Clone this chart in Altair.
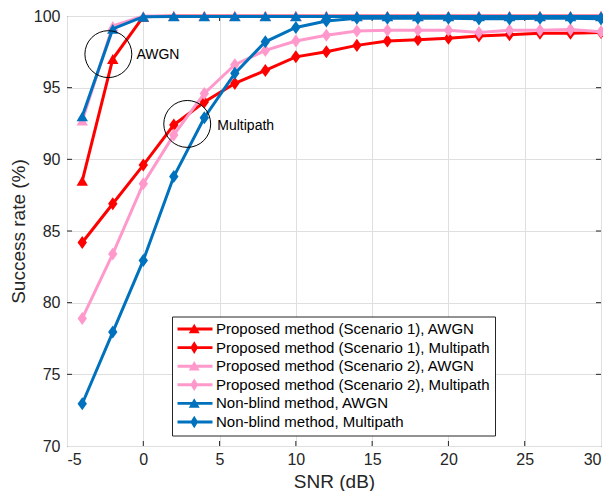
import altair as alt
import pandas as pd

# ---------------- data ----------------
snr = [-4, -2, 0, 2, 4, 6, 8, 10, 12, 14, 16, 18, 20, 22, 24, 26, 28, 30]

p1_awgn = [88.5, 97.0, 99.95, 100, 100, 100, 100, 100, 100, 100, 100, 100, 100, 100, 100, 100, 100, 100]
p1_mp = [84.2, 86.9, 89.6, 92.4, 94.0, 95.3, 96.2, 97.15, 97.5, 97.95, 98.25, 98.35, 98.45, 98.6, 98.7, 98.8, 98.8, 98.85]
p2_awgn = [92.7, 99.3, 100, 100, 100, 100, 100, 100, 100, 100, 100, 100, 100, 100, 100, 100, 100, 100]
p2_mp = [78.9, 83.4, 88.3, 91.7, 94.6, 96.6, 97.6, 98.25, 98.65, 98.95, 99.0, 99.0, 99.0, 98.85, 99.0, 99.0, 99.05, 98.9]
nb_awgn = [93.0, 99.1, 99.95, 99.97, 99.97, 99.97, 99.97, 99.97, 99.97, 99.97, 99.97, 99.97, 99.97, 99.97, 99.97, 99.97, 99.97, 99.97]
nb_mp = [72.95, 77.95, 82.95, 88.8, 92.9, 96.0, 98.2, 99.2, 99.65, 99.85, 99.85, 99.85, 99.85, 99.8, 99.8, 99.85, 99.85, 99.8]

series_names = [
    "Proposed method (Scenario 1), AWGN",
    "Proposed method (Scenario 1), Multipath",
    "Proposed method (Scenario 2), AWGN",
    "Proposed method (Scenario 2), Multipath",
    "Non-blind method, AWGN",
    "Non-blind method, Multipath",
]
series_values = [p1_awgn, p1_mp, p2_awgn, p2_mp, nb_awgn, nb_mp]
series_colors = ["#FF0000", "#FF0000", "#FF99CC", "#FF99CC", "#0072BD", "#0072BD"]
series_markers = ["tri", "dia", "tri", "dia", "tri", "dia"]

x_ticks = [-5, 0, 5, 10, 15, 20, 25, 30]
y_ticks = [70, 75, 80, 85, 90, 95, 100]

ann_x = [-2.29, 2.88]
ann_y = [97.34, 92.47]
ann_text = ["AWGN", "Multipath"]
ann_text_x = [-0.45, 4.85]
ann_text_y = [97.3, 92.32]

# ---------------- style ----------------
FONT = "Liberation Sans"
INK = "#262626"
X_DOM = [-5, 30]
Y_DOM = [70, 100]
TICK_LEN_X = 0.33   # inward tick length in data units
TICK_LEN_Y = 0.349

marker_shape = {"tri": "triangle-up", "dia": "M0,-1L0.72,0L0,1L-0.72,0Z"}
marker_size = {"tri": 130, "dia": 170}
legend_path = {
    "tri": "M-1,-0.21H4V0.21H-1Z M1.39,-0.75L2.17,0.62L0.61,0.62Z",
    "dia": "M-1,-0.21H4V0.21H-1Z M1.39,-0.9L1.95,0L1.39,0.9L0.83,0Z",
}

rows = []
for name, vals in zip(series_names, series_values):
    for s, v in zip(snr, vals):
        rows.append({"snr": s, "value": v, "series": name})
df = pd.DataFrame(rows)

x_enc = alt.X(
    "snr:Q",
    scale=alt.Scale(domain=X_DOM, nice=False, zero=False),
    axis=alt.Axis(values=x_ticks, title="SNR (dB)", labelPadding=5, titlePadding=5,
                  labelExpr="'' + datum.value"),
)
y_enc = alt.Y(
    "value:Q",
    scale=alt.Scale(domain=Y_DOM, nice=False, zero=False),
    axis=alt.Axis(values=y_ticks, title="Success rate (%)", labelPadding=7, titlePadding=5),
)

layers = []

# inward tick marks on all four sides
tick_rows = []
for t in x_ticks[1:-1]:
    tick_rows.append({"snr": t, "value": Y_DOM[0], "snr2": t, "value2": Y_DOM[0] + TICK_LEN_Y})
    tick_rows.append({"snr": t, "value": Y_DOM[1], "snr2": t, "value2": Y_DOM[1] - TICK_LEN_Y})
for v in y_ticks[1:-1]:
    tick_rows.append({"snr": X_DOM[0], "value": v, "snr2": X_DOM[0] + TICK_LEN_X, "value2": v})
    tick_rows.append({"snr": X_DOM[1], "value": v, "snr2": X_DOM[1] - TICK_LEN_X, "value2": v})
ticks = alt.Chart(pd.DataFrame(tick_rows)).mark_rule(color=INK, strokeWidth=1).encode(
    x=x_enc, x2="snr2:Q", y=y_enc, y2="value2:Q"
)
layers.append(ticks)

for name, col, mk in zip(series_names, series_colors, series_markers):
    base = alt.Chart(df).transform_filter(alt.datum.series == name)
    line = base.mark_line(strokeWidth=3, color=col).encode(x=x_enc, y=y_enc)
    pts = base.mark_point(
        filled=True, opacity=1, shape=marker_shape[mk], size=marker_size[mk],
        strokeWidth=0, color=col,
    ).encode(x=x_enc, y=y_enc)
    layers += [line, pts]

# annotations
ann_df = pd.DataFrame({"snr": ann_x, "value": ann_y})
circles = alt.Chart(ann_df).mark_point(
    shape="circle", filled=False, size=2200, color="black", strokeWidth=1, opacity=1
).encode(x=x_enc, y=y_enc)
txt_df = pd.DataFrame({"snr": ann_text_x, "value": ann_text_y, "label": ann_text})
texts = alt.Chart(txt_df).mark_text(
    align="left", baseline="middle", fontSize=14, font=FONT, color="black"
).encode(x=x_enc, y=y_enc, text="label:N")
layers += [circles, texts]

# legend carrier (draws no rows itself)
leg = alt.Legend(
    orient="none", legendX=105, legendY=300.5, title=None, padding=5,
    strokeColor=INK, fillColor="white", labelFontSize=15, labelFont=FONT,
    labelColor="black", symbolSize=196, symbolStrokeWidth=0, rowPadding=2.6,
    labelOffset=24, labelLimit=400, cornerRadius=0,
)
legend_layer = alt.Chart(df).transform_filter("false").mark_point(
    filled=True, opacity=1, strokeWidth=0
).encode(
    x=x_enc, y=y_enc,
    color=alt.Color("series:N", scale=alt.Scale(domain=series_names, range=series_colors), legend=leg),
    shape=alt.Shape(
        "series:N",
        scale=alt.Scale(domain=series_names, range=[legend_path[m] for m in series_markers]),
        legend=leg,
    ),
)
layers.append(legend_layer)

chart = alt.layer(*layers).properties(
    width=534, height=430,
    autosize=alt.AutoSizeParams(type="none"),
    padding={"left": 59, "top": 8, "right": 2, "bottom": 45},
).configure_view(stroke=INK, strokeWidth=1).configure_axis(
    grid=True, gridColor="#dfdfdf", gridWidth=1, domain=False, ticks=False,
    labelFont=FONT, titleFont=FONT, labelFontSize=16, titleFontSize=19,
    labelColor=INK, titleColor=INK, titleFontWeight="normal",
)

chart.save("out.html", embed_options={"renderer": "svg", "actions": False})
